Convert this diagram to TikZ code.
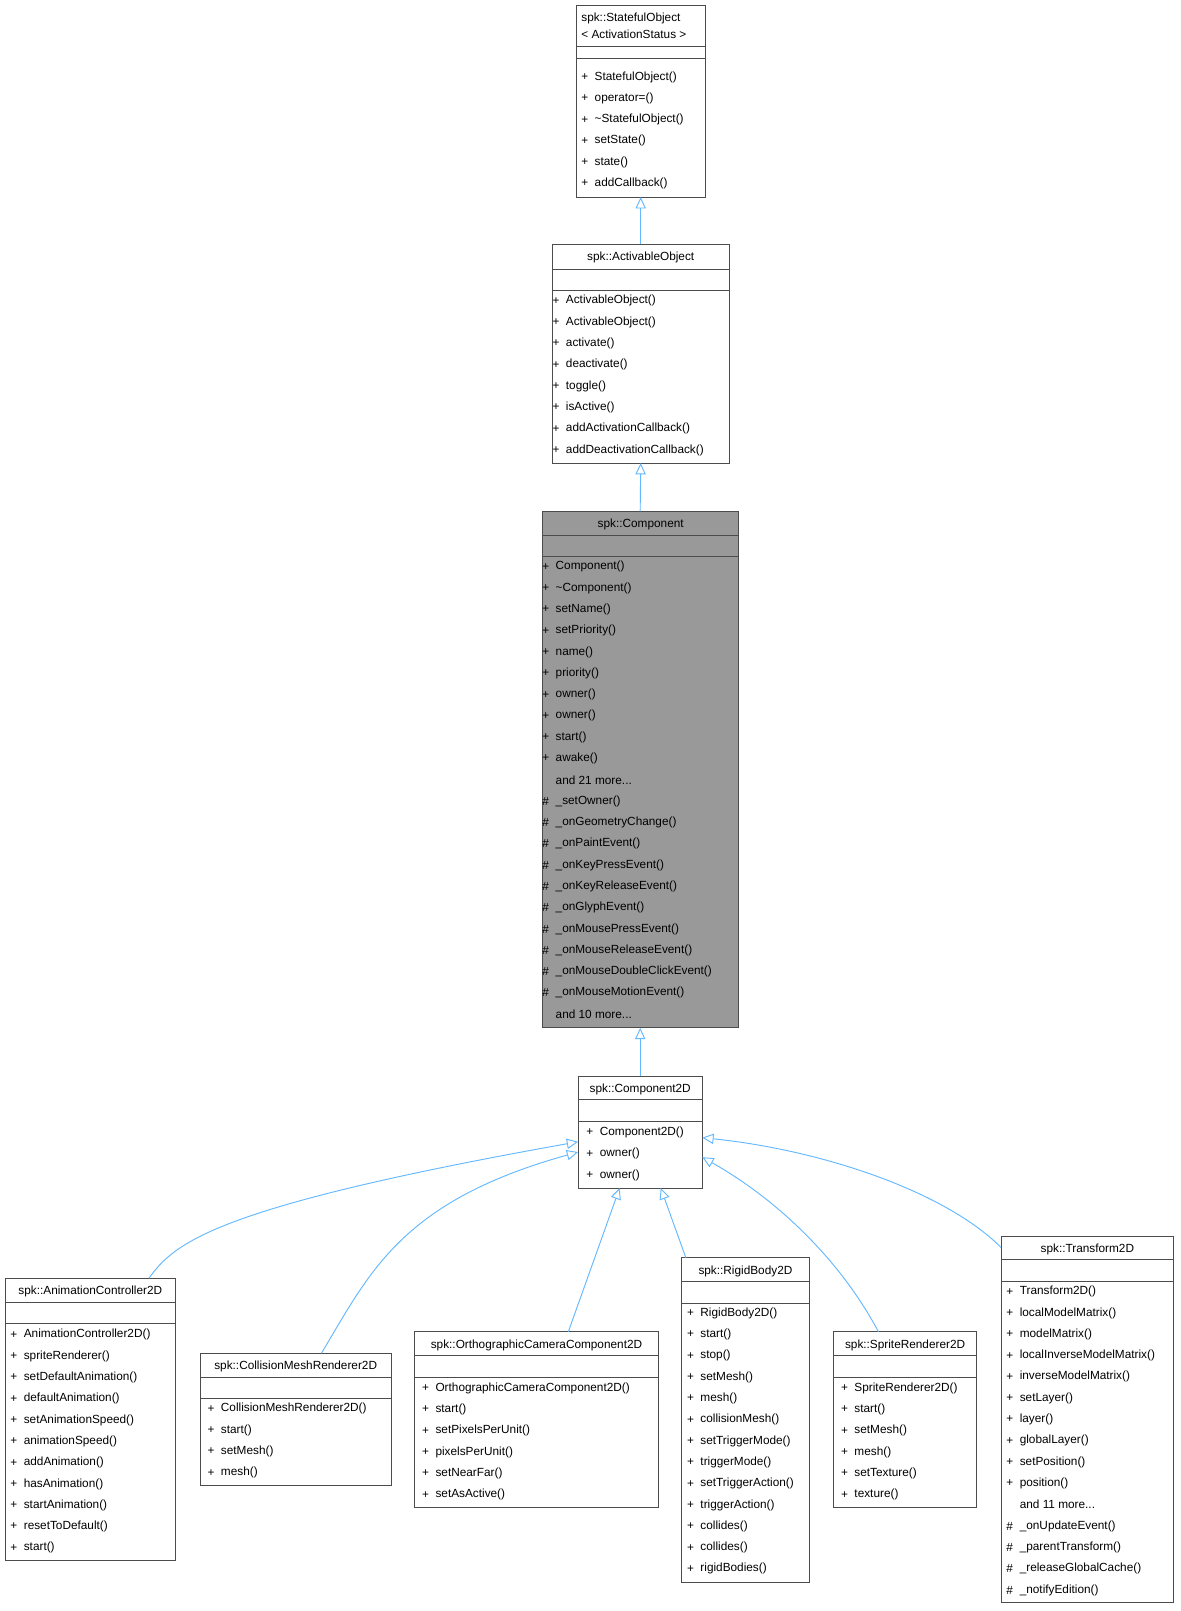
\documentclass[tikz,border=0pt]{standalone}
\usepackage{fontspec}
\setmainfont{Liberation Sans}
\usetikzlibrary{arrows.meta}
\definecolor{edge}{HTML}{63B8FF}
\tikzset{
  box/.style={draw=black!70, line width=0.8pt, anchor=north west, inner sep=0, outer sep=0},
  txt/.style={anchor=west, inner sep=0, font=\fontsize{11.5}{13}\selectfont},
  inh/.style={edge, line width=0.9pt, -{Triangle[open, fill=white, length=11pt, width=10pt]}},
  sepl/.style={draw=black!70, line width=0.8pt}
}
% \cls{id}{x1}{x2}{ytop}{ybot}{sep1}{sep2}{firstY}{fill}
\newcommand{\cls}[9]{%
  \node[box, fill=#9, minimum width=#3pt-#2pt, minimum height=#5pt-#4pt] (#1) at (#2,#4) {};
  \draw[sepl] (#2,#6) -- (#3,#6);
  \draw[sepl] (#2,#7) -- (#3,#7);
}
\newcommand{\mem}[5]{% x1 y index prefix text
  \node[txt] at (#1+5, #2+#3*20.75) {#4};
  \node[txt] at (#1+18, #2+#3*20.75) {#5};
}
\begin{document}
\begin{tikzpicture}[x=1pt,y=-1pt]
\useasboundingbox[fill=white] (0,0) rectangle (1150,1569);
% StatefulObject
\cls{so}{561}{687}{5}{192}{45}{57}{75}{white}
\node[txt] at (566,18) {spk::StatefulObject};
\node[txt] at (566,33) {< ActivationStatus >};
\foreach \t [count=\i from 0] in {StatefulObject(),operator=(),\textasciitilde StatefulObject(),setState(),state(),addCallback()}
  {\mem{561}{75}{\i}{+}{\t}}
% ActivableObject
\cls{ao}{538}{710}{238}{451}{262}{283}{293}{white}
\node[txt, anchor=center] at (624,251) {spk::ActivableObject};
\foreach \t [count=\i from 0] in {ActivableObject(),ActivableObject(),activate(),deactivate(),toggle(),isActive(),addActivationCallback(),addDeactivationCallback()}
  {\mem{533}{293}{\i}{+}{\t}}
% Component
\cls{co}{528}{719}{498}{1001}{521}{542}{552}{black!40}
\node[txt, anchor=center] at (624,511) {spk::Component};
\foreach \t [count=\i from 0] in {Component(),\textasciitilde Component(),setName(),setPriority(),name(),priority(),owner(),owner(),start(),awake()}
  {\mem{523}{552}{\i}{+}{\t}}
\mem{523}{552}{10}{}{and 21 more...}
\foreach \t [count=\i from 11] in {\_setOwner(),\_onGeometryChange(),\_onPaintEvent(),\_onKeyPressEvent(),\_onKeyReleaseEvent(),\_onGlyphEvent(),\_onMousePressEvent(),\_onMouseReleaseEvent(),\_onMouseDoubleClickEvent(),\_onMouseMotionEvent()}
  {\mem{523}{552}{\i}{\#}{\t}}
\mem{523}{552}{21}{}{and 10 more...}
% Component2D
\cls{c2}{563}{684}{1048}{1157}{1071}{1092}{1103}{white}
\node[txt, anchor=center] at (623.5,1061) {spk::Component2D};
\foreach \t [count=\i from 0] in {Component2D(),owner(),owner()}
  {\mem{566}{1103}{\i}{+}{\t}}
% AnimationController2D
\cls{an}{5}{171}{1245}{1520}{1268}{1289}{1300}{white}
\node[txt, anchor=center] at (88,1258) {spk::AnimationController2D};
\foreach \t [count=\i from 0] in {AnimationController2D(),spriteRenderer(),setDefaultAnimation(),defaultAnimation(),setAnimationSpeed(),animationSpeed(),addAnimation(),hasAnimation(),startAnimation(),resetToDefault(),start()}
  {\mem{5}{1300}{\i}{+}{\t}}
% CollisionMeshRenderer2D
\cls{cm}{195}{381}{1318}{1447}{1341}{1362}{1372}{white}
\node[txt, anchor=center] at (288,1331) {spk::CollisionMeshRenderer2D};
\foreach \t [count=\i from 0] in {CollisionMeshRenderer2D(),start(),setMesh(),mesh()}
  {\mem{197}{1372}{\i}{+}{\t}}
% OrthographicCameraComponent2D
\cls{oc}{404}{641}{1297}{1468}{1320}{1341}{1352}{white}
\node[txt, anchor=center] at (522.5,1310) {spk::OrthographicCameraComponent2D};
\foreach \t [count=\i from 0] in {OrthographicCameraComponent2D(),start(),setPixelsPerUnit(),pixelsPerUnit(),setNearFar(),setAsActive()}
  {\mem{406}{1352}{\i}{+}{\t}}
% RigidBody2D
\cls{rb}{664}{788}{1225}{1541}{1248}{1269}{1279}{white}
\node[txt, anchor=center] at (726,1238) {spk::RigidBody2D};
\foreach \t [count=\i from 0] in {RigidBody2D(),start(),stop(),setMesh(),mesh(),collisionMesh(),setTriggerMode(),triggerMode(),setTriggerAction(),triggerAction(),collides(),collides(),rigidBodies()}
  {\mem{664}{1279}{\i}{+}{\t}}
% SpriteRenderer2D
\cls{sr}{812}{951}{1297}{1468}{1320}{1341}{1352}{white}
\node[txt, anchor=center] at (881.5,1310) {spk::SpriteRenderer2D};
\foreach \t [count=\i from 0] in {SpriteRenderer2D(),start(),setMesh(),mesh(),setTexture(),texture()}
  {\mem{814}{1352}{\i}{+}{\t}}
% Transform2D
\cls{tr}{975}{1143}{1204}{1561}{1227}{1248}{1258}{white}
\node[txt, anchor=center] at (1059,1217) {spk::Transform2D};
\foreach \t [count=\i from 0] in {Transform2D(),localModelMatrix(),modelMatrix(),localInverseModelMatrix(),inverseModelMatrix(),setLayer(),layer(),globalLayer(),setPosition(),position()}
  {\mem{975}{1258}{\i}{+}{\t}}
\mem{975}{1258}{10}{}{and 11 more...}
\foreach \t [count=\i from 11] in {\_onUpdateEvent(),\_parentTransform(),\_releaseGlobalCache(),\_notifyEdition()}
  {\mem{975}{1258}{\i}{\#}{\t}}
% edges
\draw[inh] (ao.north) -- (so.south);
\draw[inh] (co.north) -- (ao.south);
\draw[inh] (c2.north) -- (co.south);
\draw[inh] ([xshift=57pt]an.north) .. controls (170,1210) and (210,1175) .. ([yshift=-64pt]c2.north west);
\draw[inh] ([xshift=25pt]cm.north) .. controls (360,1240) and (390,1170) .. ([yshift=-74pt]c2.north west);
\draw[inh] ([xshift=31pt]oc.north) -- ([xshift=-20pt]c2.south);
\draw[inh] ([xshift=-58pt]rb.north) -- ([xshift=20pt]c2.south);
\draw[inh] ([xshift=-26pt]sr.north) .. controls (820,1230) and (760,1170) .. ([yshift=-79pt]c2.north east);
\draw[inh] ([yshift=-11pt]tr.north west) .. controls (920,1160) and (800,1120) .. ([yshift=-60pt]c2.north east);
\end{tikzpicture}
\end{document}
